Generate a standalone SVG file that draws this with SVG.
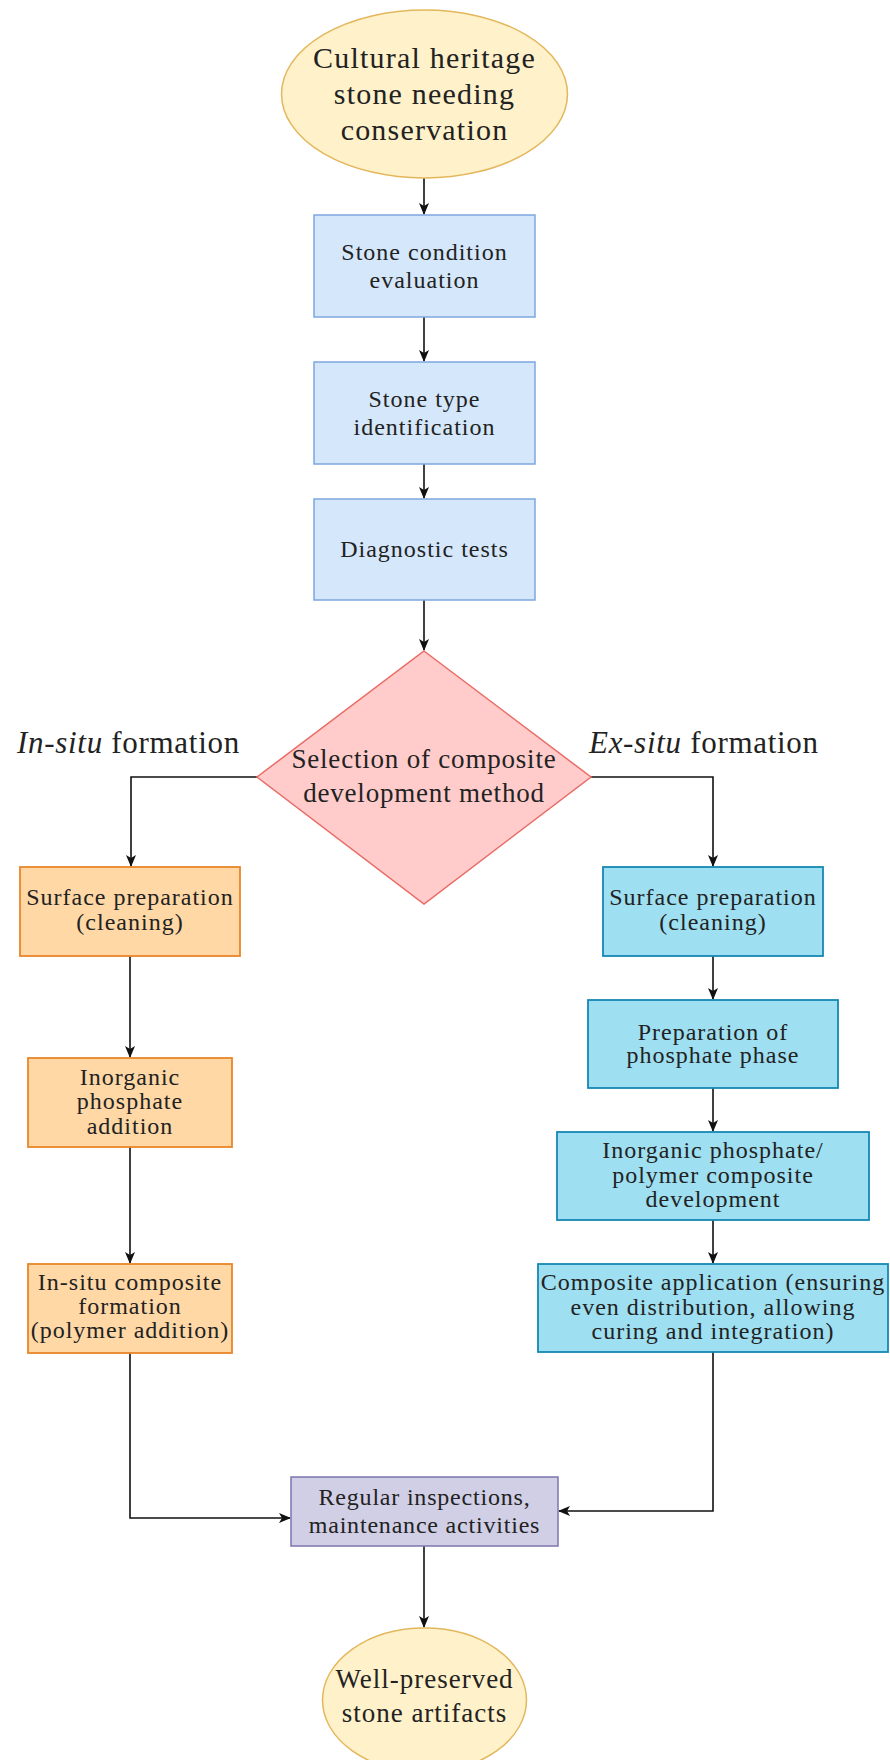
<svg xmlns="http://www.w3.org/2000/svg" width="890" height="1760" viewBox="0 0 890 1760">
<style>
text{font-family:"Liberation Serif","Times New Roman",serif;fill:#222;text-anchor:middle}
.box{font-size:24px;letter-spacing:1px}
.big{font-size:30px;letter-spacing:1.2px}
.dtxt{font-size:27px;letter-spacing:0.8px}
.lab{font-size:31px;letter-spacing:0.7px;text-anchor:start}
.endt{font-size:27px;letter-spacing:1px}
.ell{fill:#fff1c9;stroke:#e3b75c;stroke-width:1.5}
.blue{fill:#d5e7fb;stroke:#7ea6e0;stroke-width:1.5}
.orange{fill:#ffd8a6;stroke:#e8862a;stroke-width:1.8}
.cyan{fill:#9edff1;stroke:#1688b3;stroke-width:1.8}
.purple{fill:#d1cfe6;stroke:#7b76ad;stroke-width:1.5}
.dia{fill:#ffcccb;stroke:#ea6b66;stroke-width:1.5}
.conn path{fill:none;stroke:#111;stroke-width:1.6;marker-end:url(#arr)}
</style>
<defs>
<marker id="arr" viewBox="0 0 12 12" refX="11" refY="6" markerWidth="12" markerHeight="12" markerUnits="userSpaceOnUse" orient="auto">
<path d="M0,1 L12,6 L0,11 L3,6 Z" fill="#111"/>
</marker>
</defs>
<rect width="890" height="1760" fill="#fff"/>

<g class="conn" id="connectors">
<path d="M424,178 V214"/>
<path d="M424,317 V361"/>
<path d="M424,464 V498"/>
<path d="M424,600 V650"/>
<path d="M257,777 H131 V866"/>
<path d="M591,777 H713 V866"/>
<path d="M130,956 V1057"/>
<path d="M130,1147 V1263"/>
<path d="M713,956 V999"/>
<path d="M713,1088 V1131"/>
<path d="M713,1220 V1263"/>
<path d="M130,1353 V1518 H290"/>
<path d="M713,1352 V1511 H559"/>
<path d="M424,1546 V1627"/>
</g>

<g id="start">
<ellipse class="ell" cx="424.5" cy="94" rx="143" ry="84"/>
<text class="big" x="424.5" y="68">Cultural heritage</text>
<text class="big" x="424.5" y="104">stone needing</text>
<text class="big" x="424.5" y="140">conservation</text>
</g>

<g id="n1">
<rect class="blue" x="314" y="215" width="221" height="102"/>
<text class="box" x="424.5" y="260">Stone condition</text>
<text class="box" x="424.5" y="288">evaluation</text>
</g>

<g id="n2">
<rect class="blue" x="314" y="362" width="221" height="102"/>
<text class="box" x="424.5" y="407">Stone type</text>
<text class="box" x="424.5" y="435">identification</text>
</g>

<g id="n3">
<rect class="blue" x="314" y="499" width="221" height="101"/>
<text class="box" x="424.5" y="557">Diagnostic tests</text>
</g>

<g id="decision">
<polygon class="dia" points="424,651 591,777 424,904 257,777"/>
<text class="dtxt" x="424" y="768">Selection of composite</text>
<text class="dtxt" x="424" y="802">development method</text>
</g>

<g id="label-insitu">
<text class="lab" x="17" y="753"><tspan font-style="italic">In-situ</tspan> formation</text>
</g>
<g id="label-exsitu">
<text class="lab" x="589" y="753"><tspan font-style="italic">Ex-situ</tspan> formation</text>
</g>

<g id="l1">
<rect class="orange" x="20" y="867" width="220" height="89"/>
<text class="box" x="130" y="905">Surface preparation</text>
<text class="box" x="130" y="930">(cleaning)</text>
</g>

<g id="l2">
<rect class="orange" x="28" y="1058" width="204" height="89"/>
<text class="box" x="130" y="1085">Inorganic</text>
<text class="box" x="130" y="1109">phosphate</text>
<text class="box" x="130" y="1134">addition</text>
</g>

<g id="l3">
<rect class="orange" x="28" y="1264" width="204" height="89"/>
<text class="box" x="130" y="1290">In-situ composite</text>
<text class="box" x="130" y="1314">formation</text>
<text class="box" x="130" y="1338">(polymer addition)</text>
</g>

<g id="r1">
<rect class="cyan" x="603" y="867" width="220" height="89"/>
<text class="box" x="713" y="905">Surface preparation</text>
<text class="box" x="713" y="930">(cleaning)</text>
</g>

<g id="r2">
<rect class="cyan" x="588" y="1000" width="250" height="88"/>
<text class="box" x="713" y="1040">Preparation of</text>
<text class="box" x="713" y="1063">phosphate phase</text>
</g>

<g id="r3">
<rect class="cyan" x="557" y="1132" width="312" height="88"/>
<text class="box" x="713" y="1158">Inorganic phosphate/</text>
<text class="box" x="713" y="1183">polymer composite</text>
<text class="box" x="713" y="1207">development</text>
</g>

<g id="r4">
<rect class="cyan" x="538" y="1264" width="350" height="88"/>
<text class="box" x="713" y="1290">Composite application (ensuring</text>
<text class="box" x="713" y="1315">even distribution, allowing</text>
<text class="box" x="713" y="1339">curing and integration)</text>
</g>

<g id="maint">
<rect class="purple" x="291" y="1477" width="267" height="69"/>
<text class="box" x="424.5" y="1505" style="letter-spacing:0.8px">Regular inspections,</text>
<text class="box" x="424.5" y="1533" style="letter-spacing:0.8px">maintenance activities</text>
</g>

<g id="end">
<ellipse class="ell" cx="424.5" cy="1700" rx="102" ry="72"/>
<text class="endt" x="424.5" y="1688">Well-preserved</text>
<text class="endt" x="424.5" y="1722">stone artifacts</text>
</g>
</svg>
